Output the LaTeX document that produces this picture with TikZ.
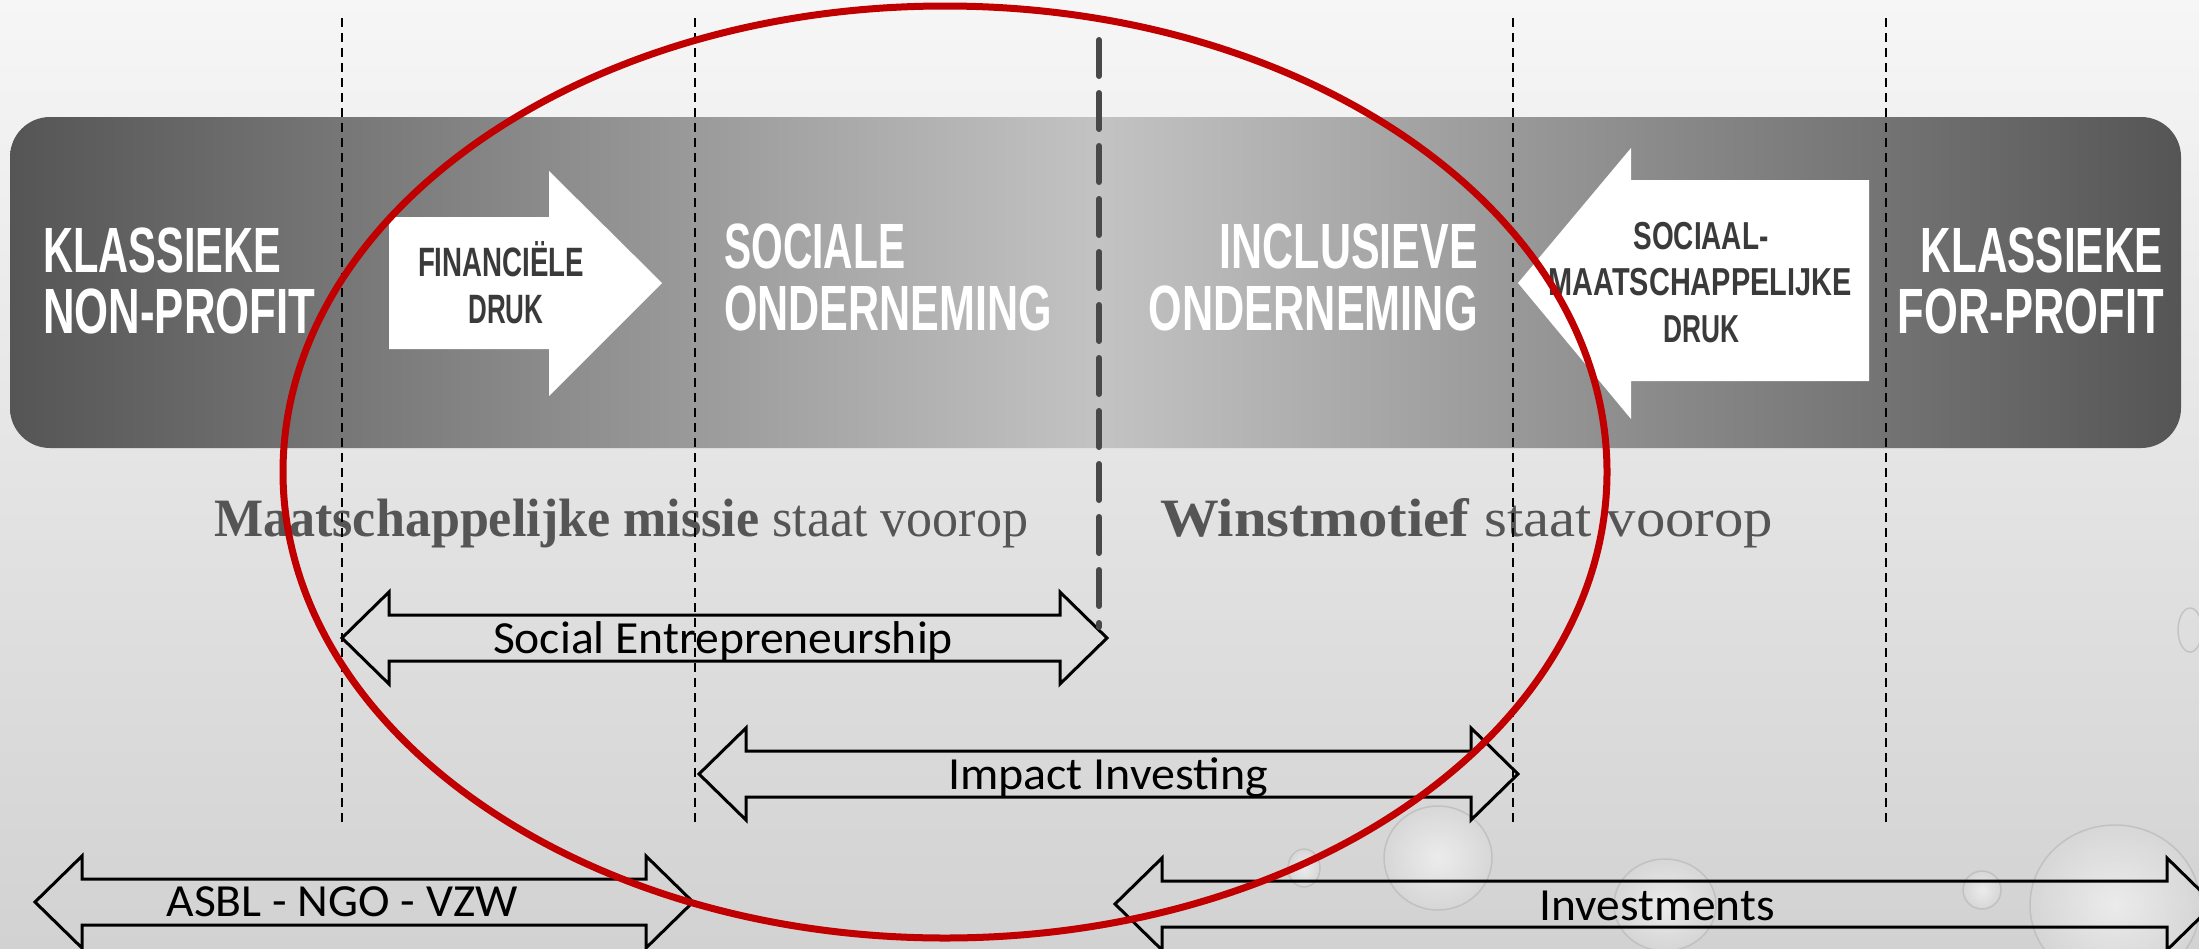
\documentclass[tikz,border=0pt]{standalone}
\usepackage{fontspec}
\usepackage{graphicx}
\newfontfamily\bandfont{Liberation Sans}
\newfontfamily\serfont{Liberation Serif}
\newfontfamily\calfont{Carlito}
\definecolor{bgtop}{HTML}{F6F6F6}
\definecolor{bgbot}{HTML}{D2D2D2}
\definecolor{banddark}{HTML}{555555}
\definecolor{bandlight}{HTML}{C3C3C3}
\definecolor{ovalred}{HTML}{C00000}
\definecolor{sertxt}{HTML}{555555}
\definecolor{arrtxt}{HTML}{3A3A3A}
\definecolor{thickdash}{HTML}{484848}
\newcommand\fw[2]{\resizebox{#1pt}{\height}{#2}}
\newcommand\dblarrow[3]{%
  \draw[dblarr] (#1,#3) -- (#1+47,#3-46) -- (#1+47,#3-23) -- (#2-47,#3-23) -- (#2-47,#3-46) -- (#2,#3)
    -- (#2-47,#3+46) -- (#2-47,#3+23) -- (#1+47,#3+23) -- (#1+47,#3+46) -- cycle;}
\begin{document}
\begin{tikzpicture}[x=1pt,y=-1pt,
  bandtxt/.style={text=white, inner sep=0, font={\bandfont\bfseries\fontsize{64}{70}\selectfont}},
  arrtext/.style={text=arrtxt, inner sep=0, font={\bandfont\bfseries\fontsize{41}{45}\selectfont}},
  sertext/.style={text=sertxt, inner sep=0, font={\serfont\fontsize{54}{60}\selectfont}},
  caltext/.style={text=black, inner sep=0, font={\calfont\fontsize{46}{50}\selectfont}},
  dblarr/.style={draw=black, line width=3pt, miter limit=10},
  whitearr/.style={fill=white, draw=none},
  thindash/.style={draw=black, line width=1.6pt, dash pattern=on 9pt off 6pt},
  thickdashline/.style={draw=thickdash, line width=6pt, line cap=round, dash pattern=on 36pt off 17pt},
  drop/.style={inner color=white, outer color=gray!30, opacity=0.55},
  dropedge/.style={draw=gray!55, line width=1.5pt, opacity=0.7}
]
% background
\useasboundingbox (0,0) rectangle (2199,948);
\shade[top color=bgtop, bottom color=bgbot] (0,0) rectangle (2199,948);

% water droplets
\shade[drop] (1304,868) ellipse [x radius=16pt, y radius=19pt];
\draw[dropedge] (1304,868) ellipse [x radius=16pt, y radius=19pt];
\shade[drop] (1438,858) ellipse [x radius=54pt, y radius=52pt];
\draw[dropedge] (1438,858) ellipse [x radius=54pt, y radius=52pt];
\shade[drop] (1665,905) ellipse [x radius=51pt, y radius=46pt];
\draw[dropedge] (1665,905) ellipse [x radius=51pt, y radius=46pt];
\shade[drop] (1982,890) ellipse [x radius=19pt, y radius=19pt];
\draw[dropedge] (1982,890) ellipse [x radius=19pt, y radius=19pt];
\shade[drop] (2115,905) ellipse [x radius=85pt, y radius=80pt];
\draw[dropedge] (2115,905) ellipse [x radius=85pt, y radius=80pt];
\draw[dropedge] (2190,630) ellipse [x radius=12pt, y radius=22pt];

% band
\begin{scope}
  \clip[rounded corners=40pt] (10,117) rectangle (2181,448);
  \shade[left color=banddark, right color=bandlight] (10,117) rectangle (1100,448);
  \shade[left color=bandlight, right color=banddark] (1099,117) rectangle (2181,448);
\end{scope}

% white block arrows
\path[whitearr] (389,217) -- (549,217) -- (549,171) -- (662,283) -- (549,396) -- (549,349) -- (389,349) -- cycle;
\path[whitearr] (1869,180) -- (1631,180) -- (1631,148) -- (1518,283) -- (1631,419) -- (1631,381) -- (1869,381) -- cycle;

% band labels
\node[bandtxt, anchor=base west] (knp1) at (43,272) {\fw{238}{KLASSIEKE}};
\node[bandtxt, anchor=base west] (knp2) at (43,333) {\fw{272}{NON-PROFIT}};
\node[bandtxt, anchor=base west] (so1) at (724,268) {\fw{181}{SOCIALE}};
\node[bandtxt, anchor=base west] (so2) at (724,330) {\fw{328}{ONDERNEMING}};
\node[bandtxt, anchor=base east] (io1) at (1478,268) {\fw{258}{INCLUSIEVE}};
\node[bandtxt, anchor=base east] (io2) at (1478,330) {\fw{329}{ONDERNEMING}};
\node[bandtxt, anchor=base east] (kfp1) at (2163,272) {\fw{242}{KLASSIEKE}};
\node[bandtxt, anchor=base east] (kfp2) at (2164,333) {\fw{266}{FOR-PROFIT}};

% arrow labels
\node[arrtext, anchor=base] (fd1) at (501,276) {\fw{166}{FINANCIËLE}};
\node[arrtext, anchor=base] (fd2) at (506,323) {\fw{75}{DRUK}};
\node[arrtext, anchor=base, font={\bandfont\bfseries\fontsize{39}{43}\selectfont}] (smd1) at (1701,249) {\fw{135}{SOCIAAL-}};
\node[arrtext, anchor=base, font={\bandfont\bfseries\fontsize{39}{43}\selectfont}] (smd2) at (1700,295) {\fw{303}{MAATSCHAPPELIJKE}};
\node[arrtext, anchor=base, font={\bandfont\bfseries\fontsize{39}{43}\selectfont}] (smd3) at (1701,342) {\fw{76}{DRUK}};

% serif captions
\node[sertext, anchor=base west] (mission) at (214,536) {\fw{814}{\textbf{Maatschappelijke missie} staat voorop}};
\node[sertext, anchor=base west] (profit) at (1160,536) {\fw{613}{\textbf{Winstmotief} staat voorop}};

% double arrows
\dblarrow{342}{1107}{638}
\dblarrow{699}{1518}{774}
\dblarrow{35}{693}{902}
\dblarrow{1115}{2214}{904}
\node[caltext, anchor=base] (se) at (723,653) {\fw{460}{Social Entrepreneurship}};
\node[caltext, anchor=base] (ii) at (1108,789) {\fw{320}{Impact Investing}};
\node[caltext, anchor=base] (asbl) at (342,916) {\fw{351}{ASBL - NGO - VZW}};
\node[caltext, anchor=base] (inv) at (1657,920) {\fw{235}{Investments}};

% thin dashed separators
\coordinate (d1t) at (342,18);  \coordinate (d1b) at (342,825);
\coordinate (d2t) at (695,18);  \coordinate (d2b) at (695,825);
\coordinate (d3t) at (1513,18); \coordinate (d3b) at (1513,825);
\coordinate (d4t) at (1886,18); \coordinate (d4b) at (1886,825);
\draw[thindash] (d1t) -- (d1b);
\draw[thindash] (d2t) -- (d2b);
\draw[thindash] (d3t) -- (d3b);
\draw[thindash] (d4t) -- (d4b);

% thick central dashed line
\coordinate (ct) at (1099,40);
\coordinate (cb) at (1099,627);
\draw[thickdashline] (ct) -- (cb);

% red oval
\draw[ovalred, line width=7pt] (945,472) ellipse [x radius=662pt, y radius=466pt];
\end{tikzpicture}
\end{document}
